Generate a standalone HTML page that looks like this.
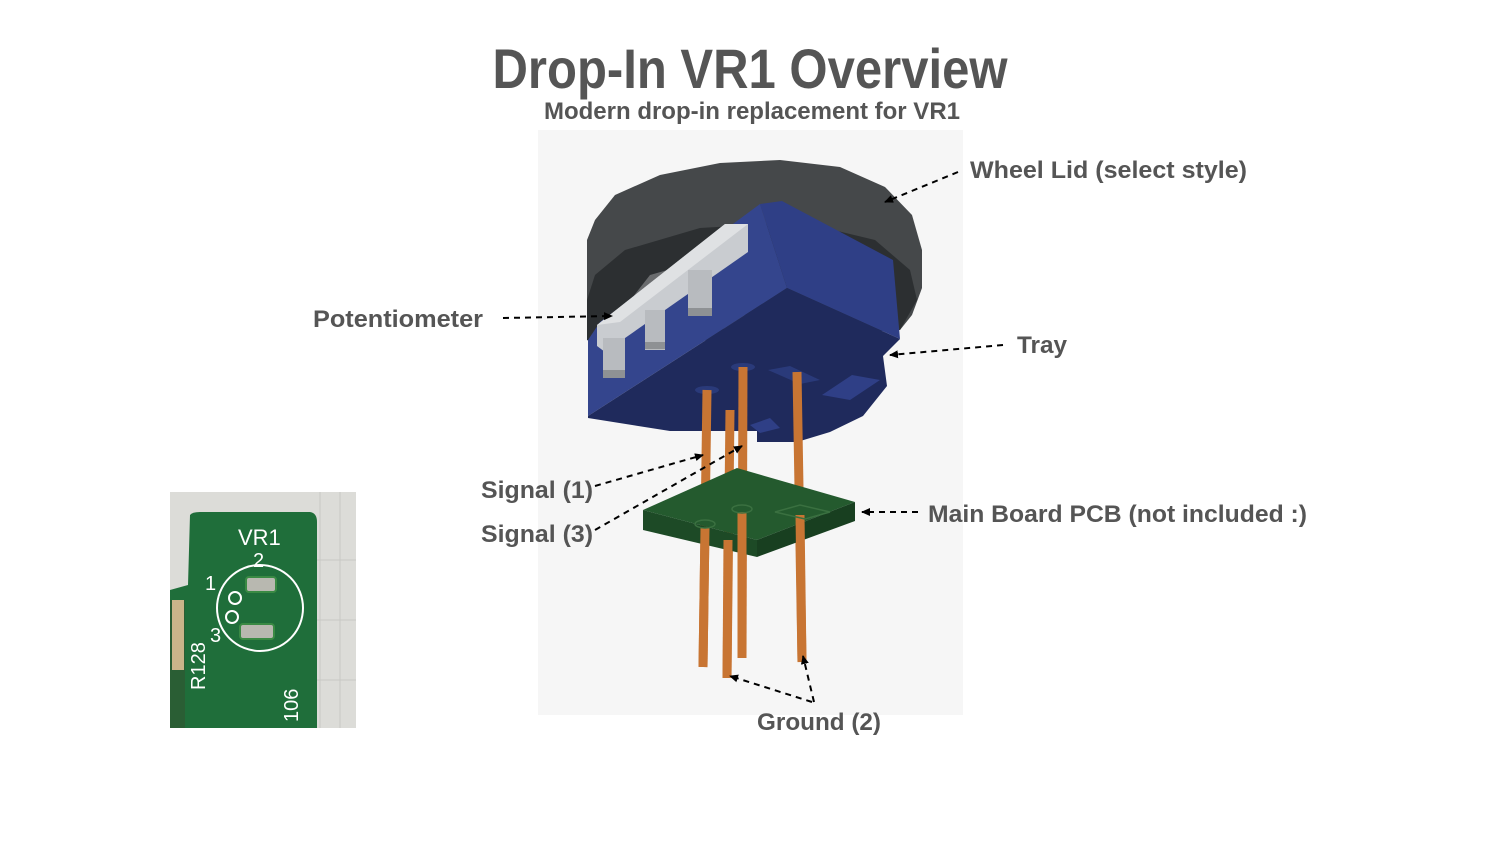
<!DOCTYPE html>
<html><head><meta charset="utf-8"><style>
html,body{margin:0;padding:0;background:#fff;}
svg{display:block;}
text{font-family:"Liberation Sans",sans-serif;font-weight:bold;fill:#555;}
</style></head><body>
<svg width="1500" height="844" viewBox="0 0 1500 844" xmlns="http://www.w3.org/2000/svg">
<defs>
<marker id="ah" markerWidth="10" markerHeight="10" refX="8" refY="5" orient="auto" markerUnits="userSpaceOnUse">
<path d="M0,1 L9,5 L0,9 Z" fill="#000"/></marker>
</defs>
<rect width="1500" height="844" fill="#fff"/>
<text x="750" y="88" font-size="56" text-anchor="middle" textLength="515" lengthAdjust="spacingAndGlyphs">Drop-In VR1 Overview</text>
<text x="752" y="119" font-size="24" text-anchor="middle" textLength="416" lengthAdjust="spacingAndGlyphs">Modern drop-in replacement for VR1</text>

<rect x="538" y="130" width="425" height="585" fill="#f6f6f6"/>

<!-- wheel lid -->
<path d="M587,240 L595,220 L615,195 L660,175 L720,163 L780,160 L840,167 L885,187 L912,215 L922,250 L922,288 L912,315 L900,330 L620,345 L587,340 Z" fill="#45484a"/>
<path d="M587,300 L595,275 L625,250 L700,228 L800,222 L875,240 L910,270 L917,300 L900,330 L600,345 L587,340 Z" fill="#2c2f31"/>
<path d="M615,320 L650,275 L720,255 L760,265 L740,330 Z" fill="#6a6c6e"/>

<!-- tray -->
<path d="M588,340 L600,322 L760,204 L787,288 L588,416 Z" fill="#34458d"/>
<path d="M760,204 L782,201 L893,260 L900,339 L787,288 Z" fill="#2f3f86"/>
<path d="M588,416 L787,288 L900,339 L883,356 L887,386 L863,416 L830,432 L797,442 L757,442 L757,431 L670,431 L588,418 Z" fill="#1f2a5c"/>

<!-- potentiometer -->
<path d="M597,325 L725,224 L748,224 L748,252 L605,352 L597,346 Z" fill="#c9ccd0"/>
<path d="M597,325 L725,224 L748,224 L620,322 Z" fill="#dfe1e3"/>
<rect x="603" y="338" width="22" height="40" fill="#b8bbbf"/>
<rect x="603" y="370" width="22" height="8" fill="#8e9194"/>
<rect x="645" y="310" width="20" height="40" fill="#b8bbbf"/>
<rect x="645" y="342" width="20" height="7" fill="#8e9194"/>
<rect x="688" y="270" width="24" height="46" fill="#b8bbbf"/>
<rect x="688" y="308" width="24" height="8" fill="#8e9194"/>

<!-- holes -->
<ellipse cx="707" cy="390" rx="12" ry="4" fill="#2a3a7a"/>
<ellipse cx="743" cy="367" rx="12" ry="4" fill="#2a3a7a"/>
<path d="M768,370 L790,366 L820,380 L800,384 Z" fill="#2a3a7a"/>
<path d="M822,395 L852,375 L880,380 L850,400 Z" fill="#2f3f86"/>
<path d="M750,425 L770,418 L780,428 L760,433 Z" fill="#2f3f86"/>

<!-- pins -->
<g stroke="#c87533" stroke-width="9">
<line x1="707" y1="390" x2="703" y2="667"/>
<line x1="730" y1="410" x2="727" y2="678"/>
<line x1="743" y1="367" x2="742" y2="658"/>
<line x1="797" y1="372" x2="802" y2="662"/>
</g>

<!-- PCB -->
<path d="M643,510 L737,468 L855,502 L757,540 Z" fill="#245a2e"/>
<path d="M643,510 L757,540 L757,557 L643,530 Z" fill="#1d4a26"/>
<path d="M757,540 L855,502 L855,521 L757,557 Z" fill="#183f20"/>
<g stroke="#c87533" stroke-width="9">
<line x1="705" y1="528" x2="703" y2="667"/>
<line x1="728" y1="540" x2="727" y2="678"/>
<line x1="742" y1="512" x2="742" y2="658"/>
<line x1="800" y1="515" x2="802" y2="662"/>
</g>
<ellipse cx="705" cy="524" rx="10" ry="4" fill="none" stroke="#3a7040" stroke-width="1.5"/>
<ellipse cx="742" cy="509" rx="10" ry="4" fill="none" stroke="#3a7040" stroke-width="1.5"/>
<path d="M775,512 L800,505 L830,512 L805,519 Z" fill="none" stroke="#3a7040" stroke-width="1.5"/>

<!-- labels -->
<text x="970" y="178" font-size="24" textLength="277" lengthAdjust="spacingAndGlyphs">Wheel Lid (select style)</text>
<text x="313" y="327" font-size="24" textLength="170" lengthAdjust="spacingAndGlyphs">Potentiometer</text>
<text x="1017" y="353" font-size="24" textLength="50" lengthAdjust="spacingAndGlyphs">Tray</text>
<text x="481" y="498" font-size="24" textLength="112" lengthAdjust="spacingAndGlyphs">Signal (1)</text>
<text x="481" y="542" font-size="24" textLength="112" lengthAdjust="spacingAndGlyphs">Signal (3)</text>
<text x="928" y="522" font-size="24" textLength="379" lengthAdjust="spacingAndGlyphs">Main Board PCB (not included :)</text>
<text x="757" y="730" font-size="24" textLength="124" lengthAdjust="spacingAndGlyphs">Ground (2)</text>

<g stroke="#000" stroke-width="2" stroke-dasharray="6,5" fill="none" marker-end="url(#ah)">
<line x1="958" y1="172" x2="885" y2="202"/>
<line x1="503" y1="318" x2="612" y2="316"/>
<line x1="1003" y1="345" x2="890" y2="355"/>
<line x1="595" y1="486" x2="703" y2="455"/>
<line x1="595" y1="530" x2="742" y2="446"/>
<line x1="918" y1="512" x2="862" y2="512"/>
<line x1="812" y1="702" x2="730" y2="676"/>
<line x1="814" y1="702" x2="803" y2="656"/>
</g>

<!-- PCB photo -->
<rect x="170" y="492" width="186" height="236" fill="#dcdcd8"/>
<g stroke="#c8c8c4" stroke-width="1">
<line x1="320" y1="492" x2="320" y2="728"/><line x1="340" y1="492" x2="340" y2="728"/>
<line x1="317" y1="560" x2="356" y2="560"/><line x1="317" y1="620" x2="356" y2="620"/><line x1="317" y1="680" x2="356" y2="680"/>
</g>
<path d="M190,515 Q192,512 200,512 L310,512 Q317,513 317,522 L317,728 L170,728 L170,590 L188,585 Z" fill="#1f6e3a"/>
<path d="M170,600 L185,600 L185,728 L170,728 Z" fill="#2a5e34"/>
<rect x="172" y="600" width="12" height="70" fill="#c9b58a"/>
<text x="238" y="545" font-size="22" style="fill:#fff;font-weight:normal">VR1</text>
<text x="253" y="567" font-size="20" style="fill:#fff;font-weight:normal">2</text>
<text x="205" y="590" font-size="20" style="fill:#fff;font-weight:normal">1</text>
<text x="210" y="642" font-size="20" style="fill:#fff;font-weight:normal">3</text>
<circle cx="260" cy="608" r="43" fill="none" stroke="#fff" stroke-width="2"/>
<rect x="246" y="577" width="30" height="15" rx="3" fill="#b8b8b0" stroke="#3a8a44" stroke-width="2"/>
<rect x="240" y="624" width="34" height="15" rx="3" fill="#b8b8b0" stroke="#3a8a44" stroke-width="2"/>
<circle cx="235" cy="598" r="6" fill="none" stroke="#fff" stroke-width="2"/>
<circle cx="232" cy="617" r="6" fill="none" stroke="#fff" stroke-width="2"/>
<text x="0" y="0" font-size="20" transform="translate(205,690) rotate(-90)" style="fill:#fff;font-weight:normal">R128</text>
<text x="0" y="0" font-size="20" transform="translate(298,722) rotate(-90)" style="fill:#fff;font-weight:normal">106</text>
</svg>
</body></html>
